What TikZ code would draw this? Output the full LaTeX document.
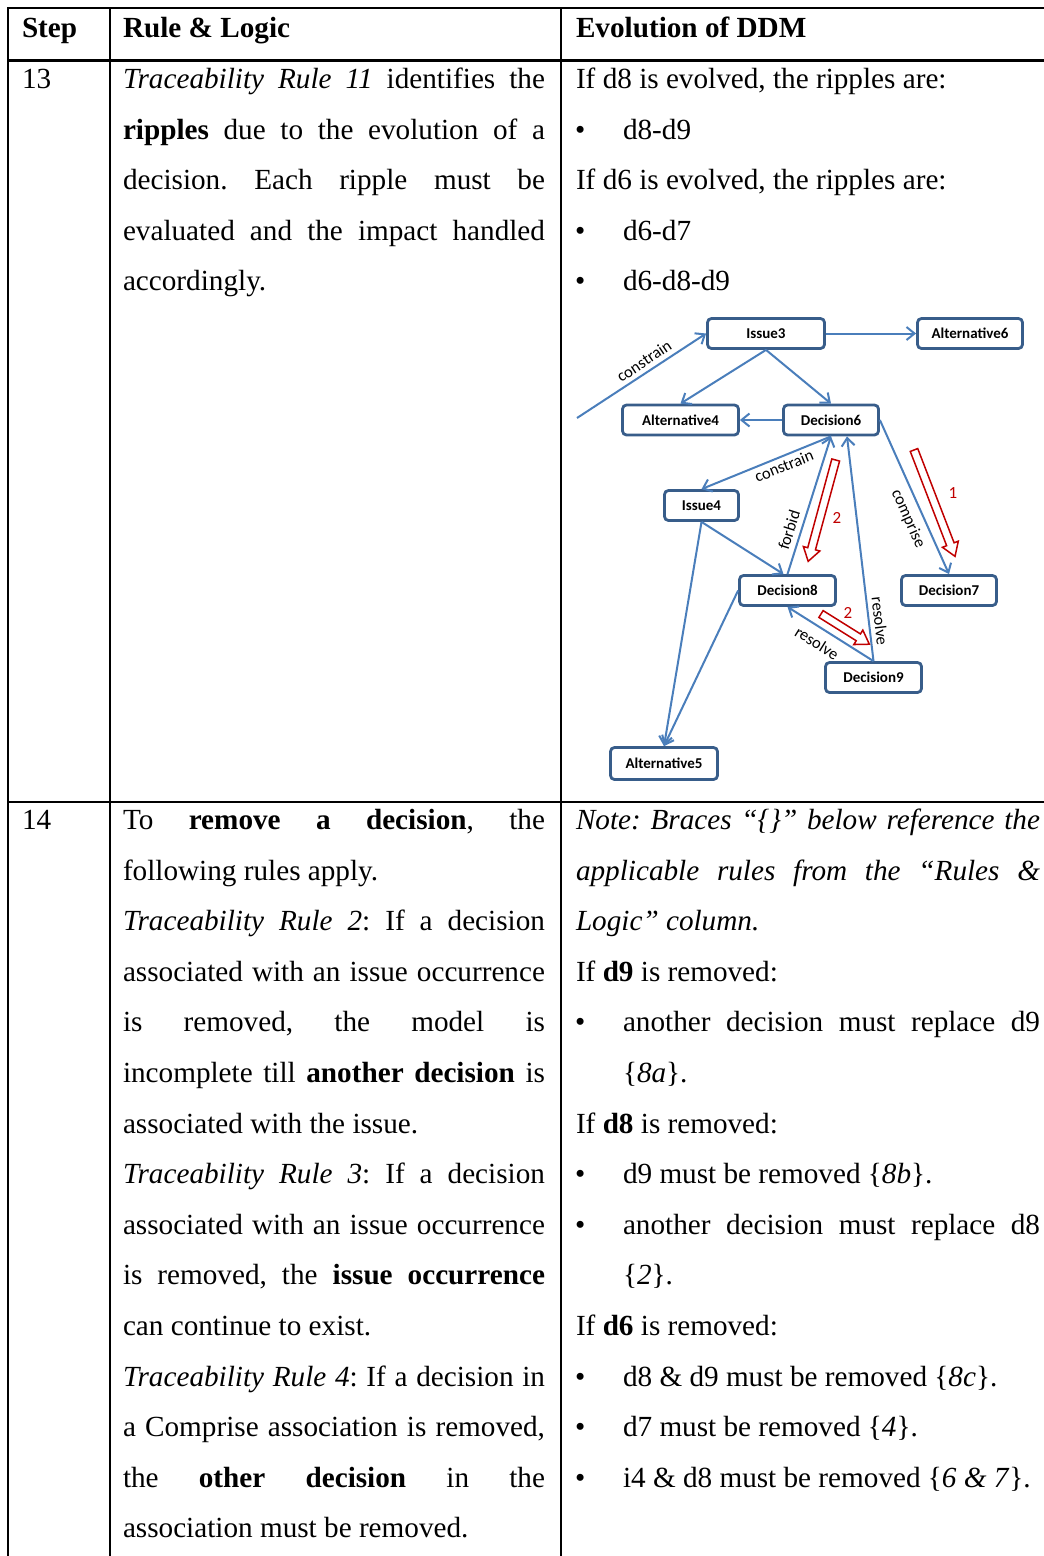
\documentclass[tikz,border=0pt]{standalone}
\usepackage{fontspec}
\setmainfont{Liberation Serif}
\newfontfamily\diafont{Carlito}
\usetikzlibrary{arrows.meta}
\definecolor{boxblue}{RGB}{56,93,138}
\definecolor{linkblue}{RGB}{74,126,187}
\definecolor{rippred}{RGB}{192,0,0}
\frenchspacing

% a line of text stretched to the full column width
\newcommand\just[2]{\makebox[#1][s]{#2}}
% hollow block arrow: tail x, tail y, angle, length
\newcommand\ripplearrow[4]{%
  \begin{scope}[shift={(#1,#2)}, rotate=#3]
    \draw[ripple] (0,-4) -- ({#4-13},-4) -- ({#4-13},-8.5) -- (#4,0)
      -- ({#4-13},8.5) -- ({#4-13},4) -- (0,4) -- cycle;
  \end{scope}}

\begin{document}
\begin{tikzpicture}[x=1pt,y=-1pt,
  txt/.style={anchor=base west, inner sep=0pt, outer sep=0pt,
    font=\fontsize{29.2}{35}\selectfont},
  rule/.style={line width=2.2pt, black},
  dbox/.style={draw=boxblue, line width=2.8pt, rounded corners=4pt, fill=white,
    inner sep=0pt, minimum height=30pt,
    font=\diafont\bfseries\fontsize{15}{17}\selectfont},
  link/.style={draw=linkblue, line width=2pt,
    -{Straight Barb[length=8pt,width=13pt]}},
  elabel/.style={inner sep=0pt, font=\diafont\fontsize{16.5}{18}\selectfont},
  rnum/.style={inner sep=0pt, text=rippred, font=\diafont\fontsize{17}{19}\selectfont},
  ripple/.style={draw=rippred, line width=1.5pt, fill=white, line join=miter}]

\useasboundingbox (0,0) rectangle (1044,1556);

% table rules
\draw[rule] (7,8) -- (1044,8);
\draw[rule] (7,60.5) -- (1044,60.5);
\draw[rule] (7,802) -- (1044,802);
\draw[rule] (8,7) -- (8,1556);
\draw[rule] (110,7) -- (110,1556);
\draw[rule] (561,7) -- (561,1556);

% header
\node[txt, font=\fontsize{29.2}{35}\selectfont\bfseries] (h1) at (22,37) {Step};
\node[txt, font=\fontsize{29.2}{35}\selectfont\bfseries] (h2) at (123,37) {Rule \& Logic};
\node[txt, font=\fontsize{29.2}{35}\selectfont\bfseries] (h3) at (576,37) {Evolution of DDM};

% step 13
\node[txt] (s13) at (22,88.5) {13};
\node[txt] (a1) at (123,88.5) {\just{422pt}{\textit{Traceability Rule 11} identifies the}};
\node[txt] (a2) at (123,139.1) {\just{422pt}{\textbf{ripples} due to the evolution of a}};
\node[txt] (a3) at (123,189.7) {\just{422pt}{decision. Each ripple must be}};
\node[txt] (a4) at (123,240.3) {\just{422pt}{evaluated and the impact handled}};
\node[txt] (a5) at (123,290.9) {accordingly.};

\node[txt] (b1) at (576,88.5) {If d8 is evolved, the ripples are:};
\node[txt] (bb2) at (575,139.1) {•};
\node[txt] (b2) at (623,139.1) {d8-d9};
\node[txt] (b3) at (576,189.7) {If d6 is evolved, the ripples are:};
\node[txt] (bb4) at (575,240.3) {•};
\node[txt] (b4) at (623,240.3) {d6-d7};
\node[txt] (bb5) at (575,290.9) {•};
\node[txt] (b5) at (623,290.9) {d6-d8-d9};

% decision model
\node[dbox, minimum width=117pt] (iss3) at (766,333.5) {Issue3};
\node[dbox, minimum width=105pt] (alt6) at (970,333.5) {Alternative6};
\node[dbox, minimum width=116pt] (alt4) at (680.5,420) {Alternative4};
\node[dbox, minimum width=95pt] (dec6) at (831,420) {Decision6};
\node[dbox, minimum width=74pt] (iss4) at (701.5,505.5) {Issue4};
\node[dbox, minimum width=96pt] (dec8) at (787.5,590.5) {Decision8};
\node[dbox, minimum width=95pt] (dec7) at (949,590.5) {Decision7};
\node[dbox, minimum width=96pt] (dec9) at (873.5,677.5) {Decision9};
\node[dbox, minimum width=107pt, minimum height=32pt] (alt5) at (664,763.5) {Alternative5};
\coordinate (c0) at (577,418);

\draw[link] (c0) -- (iss3.west);
\draw[link] (iss3.east) -- (alt6.west);
\draw[link] (iss3.south) -- (alt4.north);
\draw[link] (iss3.south) -- (dec6.north);
\draw[link] (dec6.west) -- (alt4.east);
\draw[link] (dec6.south) -- (iss4.north);
\draw[link] (dec8.north) -- (dec6.south);
\draw[link] (dec9.north) -- ([xshift=16pt]dec6.south);
\draw[link] (dec9.north) -- (dec8.south);
\draw[link] (iss4.south) -- ([xshift=-4pt]dec8.north);
\draw[link] (iss4.south) -- (alt5.north);
\draw[link] (dec8.west) -- (alt5.north);
\draw[link] (dec6.east) -- (dec7.north);

\node[elabel, rotate=33.7] (lc1) at (644,361) {constrain};
\node[elabel, rotate=21.9] (lc2) at (784,466) {constrain};
\node[elabel, rotate=72.4] (lfb) at (789,530) {forbid};
\node[elabel, rotate=-83.3] (lr1) at (880,621) {resolve};
\node[elabel, rotate=-32] (lr2) at (817,643) {resolve};
\node[elabel, rotate=-65.9] (lcp) at (908,519) {comprise};

\ripplearrow{914}{450}{-68.9}{114}
\ripplearrow{835.7}{460}{-105.2}{105}
\ripplearrow{821}{614}{-32}{57}
\node[rnum] (n1) at (953,493) {1};
\node[rnum] (n2) at (837,518) {2};
\node[rnum] (n3) at (848,613) {2};

% step 14
\node[txt] (s14) at (22,829.5) {14};
\node[txt] (c1) at (123,829.5) {\just{422pt}{To \textbf{remove a decision}, the}};
\node[txt] (c2) at (123,880.1) {following rules apply.};
\node[txt] (c3) at (123,930.7) {\just{422pt}{\textit{Traceability Rule 2}: If a decision}};
\node[txt] (c4) at (123,981.3) {\just{422pt}{associated with an issue occurrence}};
\node[txt] (c5) at (123,1031.9) {\just{422pt}{is removed, the model is}};
\node[txt] (c6) at (123,1082.5) {\just{422pt}{incomplete till \textbf{another decision} is}};
\node[txt] (c7) at (123,1133.1) {associated with the issue.};
\node[txt] (c8) at (123,1183.7) {\just{422pt}{\textit{Traceability Rule 3}: If a decision}};
\node[txt] (c9) at (123,1234.3) {\just{422pt}{associated with an issue occurrence}};
\node[txt] (c10) at (123,1284.9) {\just{422pt}{is removed, the \textbf{issue occurrence}}};
\node[txt] (c11) at (123,1335.5) {can continue to exist.};
\node[txt] (c12) at (123,1386.1) {\just{422pt}{\textit{Traceability Rule 4}: If a decision in}};
\node[txt] (c13) at (123,1436.7) {\just{422pt}{a Comprise association is removed,}};
\node[txt] (c14) at (123,1487.3) {\just{422pt}{the \textbf{other decision} in the}};
\node[txt] (c15) at (123,1537.9) {association must be removed.};

\node[txt] (d1) at (576,829.5) {\just{464pt}{\itshape Note: Braces “\{\}” below reference the}};
\node[txt] (d2) at (576,880.1) {\just{464pt}{\itshape applicable rules from the “Rules \&}};
\node[txt] (d3) at (576,930.7) {\textit{Logic” column.}};
\node[txt] (d4) at (576,981.3) {If \textbf{d9} is removed:};
\node[txt] (dd5) at (575,1031.9) {•};
\node[txt] (d5) at (623,1031.9) {\just{417pt}{another decision must replace d9}};
\node[txt] (d6) at (623,1082.5) {\{\textit{8a}\}.};
\node[txt] (d7) at (576,1133.1) {If \textbf{d8} is removed:};
\node[txt] (dd8) at (575,1183.7) {•};
\node[txt] (d8) at (623,1183.7) {d9 must be removed \{\textit{8b}\}.};
\node[txt] (dd9) at (575,1234.3) {•};
\node[txt] (d9) at (623,1234.3) {\just{417pt}{another decision must replace d8}};
\node[txt] (d10) at (623,1284.9) {\{\textit{2}\}.};
\node[txt] (d11) at (576,1335.5) {If \textbf{d6} is removed:};
\node[txt] (dd12) at (575,1386.1) {•};
\node[txt] (d12) at (623,1386.1) {d8 \& d9 must be removed \{\textit{8c}\}.};
\node[txt] (dd13) at (575,1436.7) {•};
\node[txt] (d13) at (623,1436.7) {d7 must be removed \{\textit{4}\}.};
\node[txt] (dd14) at (575,1487.3) {•};
\node[txt] (d14) at (623,1487.3) {i4 \& d8 must be removed \{\textit{6 \& 7}\}.};
\end{tikzpicture}
\end{document}
